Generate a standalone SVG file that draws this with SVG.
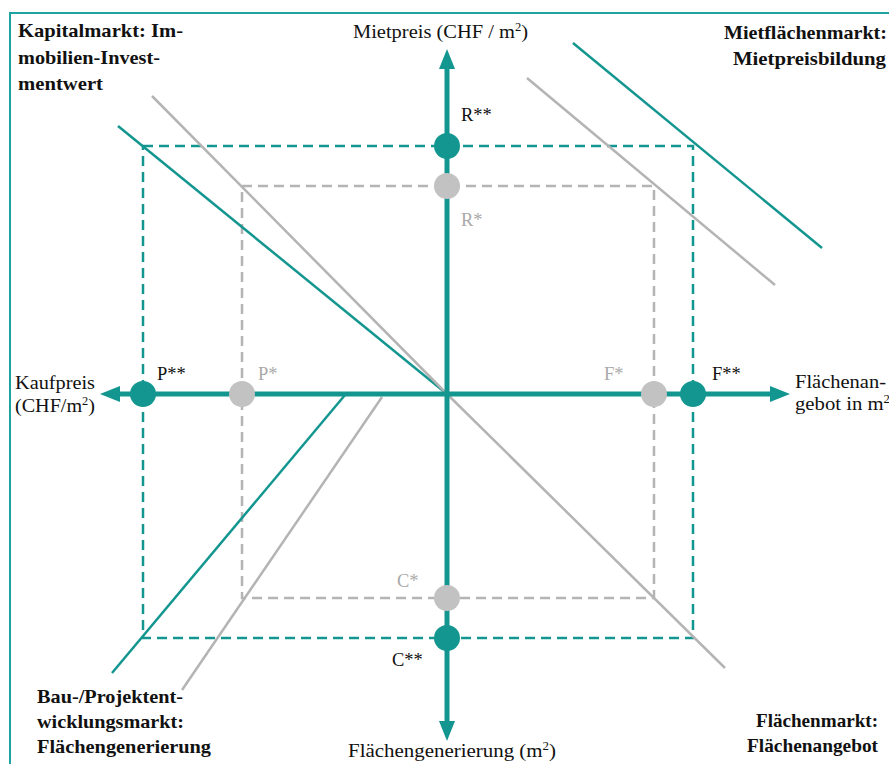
<svg xmlns="http://www.w3.org/2000/svg" width="889" height="764" viewBox="0 0 889 764">
<style>
.lbl{font-family:"Liberation Serif","Times New Roman",serif;font-size:19.5px;fill:#111}
.b{font-weight:bold}
.sm{font-family:"Liberation Serif","Times New Roman",serif;font-size:18.5px}
.dk{fill:#111}
.gy{fill:#a9a9a9}
.teal{stroke:#13968f;fill:none}
.gray{stroke:#b4b4b4;fill:none}
.dash{stroke-width:2.5;stroke-dasharray:10 6}
.diag{stroke-width:2.5}
.axis{stroke:#13968f;stroke-width:5;fill:none;marker-end:url(#arr)}
.ct{fill:#13968f}
.cg{fill:#c2c2c2}
</style>
<defs>
<marker id="arr" markerUnits="userSpaceOnUse" viewBox="0 0 20 16" markerWidth="20" markerHeight="16" refX="1" refY="8" orient="auto">
<path d="M0,0 L20,8 L0,16 z" fill="#13968f"/>
</marker>
</defs>
<rect width="889" height="764" fill="#fff"/>
<path d="M10,764 L10,13 L889,13" stroke="#1fa3a0" stroke-width="2" fill="none"/>
<g id="connectors">
<rect class="teal dash" x="143" y="146" width="550" height="492"/>
<rect class="gray dash" x="242" y="186" width="412" height="412"/>
<line class="teal diag" x1="118" y1="126" x2="447" y2="394"/>
<line class="gray diag" x1="152" y1="96" x2="447" y2="394"/>
<line class="gray diag" x1="447" y1="394" x2="725" y2="668"/>
<line class="teal diag" x1="573" y1="43" x2="822" y2="248"/>
<line class="gray diag" x1="527" y1="78" x2="775" y2="285"/>
<line class="teal diag" x1="345" y1="395" x2="112" y2="673"/>
<line class="gray diag" x1="382" y1="397" x2="182" y2="690"/>
<line class="axis" x1="447" y1="394" x2="447" y2="68"/>
<line class="axis" x1="447" y1="394" x2="447" y2="722"/>
<line class="axis" x1="447" y1="394" x2="119" y2="394"/>
<line class="axis" x1="447" y1="394" x2="771" y2="394"/>
</g>
<g id="R2"><circle class="ct" cx="447" cy="146" r="13"/><text class="sm dk" x="461" y="121">R**</text></g>
<g id="R1"><circle class="cg" cx="447" cy="186" r="13"/><text class="sm gy" x="461" y="226">R*</text></g>
<g id="P2"><circle class="ct" cx="143" cy="394" r="13"/><text class="sm dk" x="157" y="380">P**</text></g>
<g id="P1"><circle class="cg" cx="242" cy="394" r="13"/><text class="sm gy" x="258" y="380">P*</text></g>
<g id="F1"><circle class="cg" cx="654" cy="394" r="13"/><text class="sm gy" x="604" y="380">F*</text></g>
<g id="F2"><circle class="ct" cx="693" cy="394" r="13"/><text class="sm dk" x="712" y="380">F**</text></g>
<g id="C1"><circle class="cg" cx="447" cy="598" r="13"/><text class="sm gy" x="397" y="587">C*</text></g>
<g id="C2"><circle class="ct" cx="447" cy="638" r="13"/><text class="sm dk" x="392" y="666">C**</text></g>
<g id="kapitalmarkt">
<text class="lbl b" x="18" y="37" textLength="165" lengthAdjust="spacingAndGlyphs">Kapitalmarkt: Im-</text>
<text class="lbl b" x="18" y="64" textLength="142" lengthAdjust="spacingAndGlyphs">mobilien-Invest-</text>
<text class="lbl b" x="18" y="90" textLength="85" lengthAdjust="spacingAndGlyphs">mentwert</text>
</g>
<g id="mietflaechenmarkt">
<text class="lbl b" x="724" y="39" textLength="163" lengthAdjust="spacingAndGlyphs">Mietflächenmarkt:</text>
<text class="lbl b" x="733" y="65" textLength="153" lengthAdjust="spacingAndGlyphs">Mietpreisbildung</text>
</g>
<g id="bau">
<text class="lbl b" x="37" y="703" textLength="146" lengthAdjust="spacingAndGlyphs">Bau-/Projektent-</text>
<text class="lbl b" x="37" y="728" textLength="147" lengthAdjust="spacingAndGlyphs">wicklungsmarkt:</text>
<text class="lbl b" x="37" y="753" textLength="174" lengthAdjust="spacingAndGlyphs">Flächengenerierung</text>
</g>
<g id="flaechenmarkt">
<text class="lbl b" x="756" y="727" textLength="122" lengthAdjust="spacingAndGlyphs">Flächenmarkt:</text>
<text class="lbl b" x="747" y="752" textLength="131" lengthAdjust="spacingAndGlyphs">Flächenangebot</text>
</g>
<g id="axis-labels">
<text class="lbl" x="353" y="38" textLength="175" lengthAdjust="spacingAndGlyphs">Mietpreis (CHF / m<tspan font-size="12" dy="-7">2</tspan><tspan dy="7">)</tspan></text>
<text class="lbl" x="15" y="389" textLength="80" lengthAdjust="spacingAndGlyphs">Kaufpreis</text>
<text class="lbl" x="15" y="412" textLength="80" lengthAdjust="spacingAndGlyphs">(CHF/m<tspan font-size="12" dy="-7">2</tspan><tspan dy="7">)</tspan></text>
<text class="lbl" x="795" y="388" textLength="91" lengthAdjust="spacingAndGlyphs">Flächenan-</text>
<text class="lbl" x="795" y="410" textLength="95" lengthAdjust="spacingAndGlyphs">gebot in m<tspan font-size="12" dy="-7">2</tspan></text>
<text class="lbl" x="348" y="757" textLength="208" lengthAdjust="spacingAndGlyphs">Flächengenerierung (m<tspan font-size="12" dy="-7">2</tspan><tspan dy="7">)</tspan></text>
</g>
</svg>
